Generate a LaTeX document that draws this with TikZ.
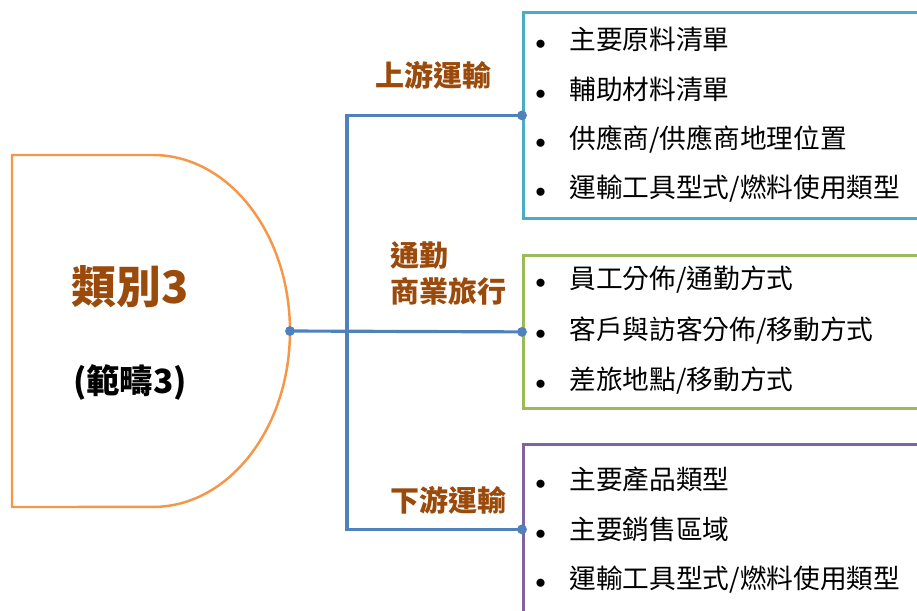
\documentclass[tikz,border=0pt]{standalone}
\usepackage{fontspec}
\setmainfont{Noto Sans CJK TC}
\usepackage{tikz}
\usetikzlibrary{positioning}
\definecolor{catorange}{HTML}{F79646}
\definecolor{catbrown}{HTML}{9A4A0B}
\definecolor{linkblue}{HTML}{4F81BD}
\definecolor{upcyan}{HTML}{4BACC6}
\definecolor{midgreen}{HTML}{9BBB59}
\definecolor{downpurple}{HTML}{8064A2}
\tikzset{%
  listbox/.style={draw,line width=1.6pt,minimum width=8.6cm,anchor=north west,inner sep=0pt},
  link/.style={draw=linkblue,line width=1.8pt},
  joint/.style={circle,fill=linkblue,inner sep=0pt,minimum size=5.6pt},
  item/.style={anchor=west,inner sep=0pt,font=\fontsize{15.2}{18}\selectfont},
  branch/.style={anchor=west,align=left,inner sep=0pt,text=catbrown,font=\bfseries\fontsize{16.5}{20.5}\selectfont}%
}
\newcommand{\bul}{\hbox to 0.68cm{{\fontsize{12}{12}\selectfont$\bullet$}\hfil}}

\begin{document}
\begin{tikzpicture}[x=0.02cm,y=-0.02cm]
\useasboundingbox (0,0) rectangle (917,610);
\clip (0,0) rectangle (917,610);

% Category shape
\draw[catorange,line width=1.4pt] (12,155) -- (153,155)
  arc[start angle=90,end angle=-90,x radius=2.74cm,y radius=3.52cm] -- (12,507) -- cycle;
\coordinate (cat) at (290,331);
\node[text=catbrown,font=\bfseries\fontsize{25.5}{28}\selectfont] (cattitle) at (130,287) {類別3};
\node[font=\bfseries\fontsize{19}{22}\selectfont] (catsub) at (130,382) {(範疇3)};

% Item boxes
\node[listbox,draw=upcyan,minimum height=4.12cm] (upbox) at (522,11) {};
\node[listbox,draw=midgreen,minimum height=3.06cm] (midbox) at (522,254) {};
\node[listbox,draw=downpurple,minimum height=3.4cm] (downbox) at (522,443) {};

\node[item] (u1) at (535,39) {\bul 主要原料清單};
\node[item] (u2) at (535,89) {\bul 輔助材料清單};
\node[item] (u3) at (535,139) {\bul 供應商/供應商地理位置};
\node[item] (u4) at (535,189) {\bul 運輸工具型式/燃料使用類型};

\node[item] (m1) at (535,280) {\bul 員工分佈/通勤方式};
\node[item] (m2) at (535,331) {\bul 客戶與訪客分佈/移動方式};
\node[item] (m3) at (535,381) {\bul 差旅地點/移動方式};

\node[item] (d1) at (535,479) {\bul 主要產品類型};
\node[item] (d2) at (535,529) {\bul 主要銷售區域};
\node[item] (d3) at (535,580) {\bul 運輸工具型式/燃料使用類型};

% Branch labels
\node[branch] (uplabel) at (375,75) {上游運輸};
\node[branch] (midlabel) at (390,273) {通勤\\商業旅行};
\node[branch] (downlabel) at (390,500) {下游運輸};

% Connections
\coordinate (trunk) at (347,331);
\draw[link] (cat) -- (midbox.west);
\draw[link] (upbox.west) -| (trunk) |- (downbox.west);
\node[joint] at (cat) {};
\node[joint] at (upbox.west) {};
\node[joint] at (midbox.west) {};
\node[joint] at (downbox.west) {};

\end{tikzpicture}
\end{document}
